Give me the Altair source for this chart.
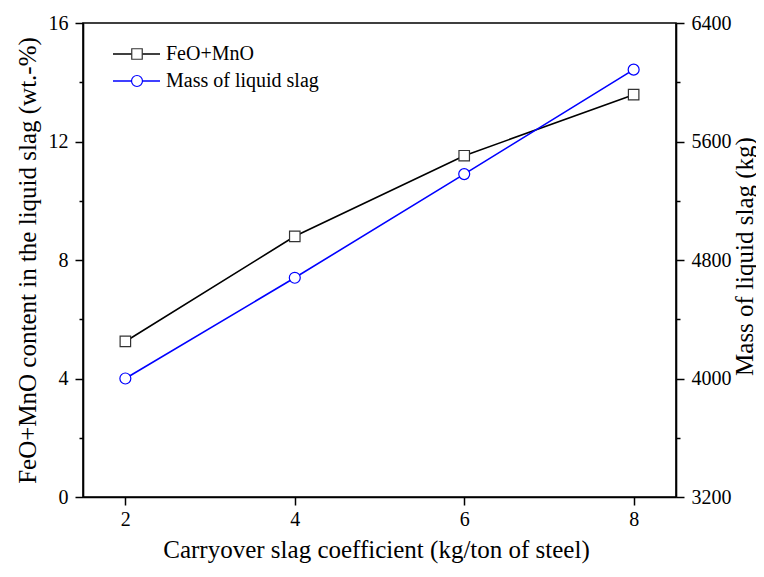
import altair as alt
import pandas as pd

coef = [2, 4, 6, 8]
feo_mno = [5.25, 8.8, 11.52, 13.58]
slag_mass = [4000, 4680, 5380, 6085]
series_names = ["FeO+MnO", "Mass of liquid slag"]

df = pd.DataFrame({"coef": coef, "feo": feo_mno, "mass": slag_mass})
FONT = "Liberation Serif"
W, H = 593, 474

x_enc = alt.X(
    "coef:Q",
    scale=alt.Scale(domain=[1.5, 8.5], nice=False, zero=False),
    axis=alt.Axis(
        values=[2, 4, 6, 8], title="Carryover slag coefficient (kg/ton of steel)",
        grid=False, tickSize=8, labelPadding=4,
        titleX=293, titleY=52, titleAlign="center", titleBaseline="middle",
    ),
)

left_axis = alt.Axis(
    values=[0, 2, 4, 6, 8, 10, 12, 14, 16],
    labelExpr="datum.value % 4 == 0 ? datum.label : ''",
    tickSize={"condition": {"test": "datum.value % 4 == 0", "value": 8}, "value": 4},
    title="FeO+MnO content in the liquid slag (wt.-%)",
    grid=False, labelPadding=7,
    titleX=-56, titleY=237, titleAngle=270, titleAlign="center", titleBaseline="middle",
)
right_axis = alt.Axis(
    values=[3200, 3600, 4000, 4400, 4800, 5200, 5600, 6000, 6400],
    labelExpr="datum.value % 800 == 0 ? datum.label : ''",
    tickSize={"condition": {"test": "datum.value % 800 == 0", "value": 8}, "value": 4},
    format="d", orient="right",
    title="Mass of liquid slag (kg)",
    grid=False, labelPadding=7,
    titleX=68, titleY=233, titleAngle=270, titleAlign="center", titleBaseline="middle",
)

base = alt.Chart(df).encode(x=x_enc)
y_left = alt.Y("feo:Q", scale=alt.Scale(domain=[0, 16], nice=False), axis=left_axis)
y_right = alt.Y("mass:Q", scale=alt.Scale(domain=[3200, 6400], nice=False), axis=right_axis)

feo_line = base.mark_line(color="black", strokeWidth=1.6).encode(y=y_left)
feo_pts = base.mark_point(shape="square", size=110, filled=True, fill="white",
                          stroke="#333333", strokeWidth=1.2, opacity=1).encode(y="feo:Q")

mass_line = base.mark_line(color="#0000ff", strokeWidth=1.6).encode(y=y_right)
mass_pts = base.mark_point(shape="circle", size=120, filled=True, fill="white",
                           stroke="#0000ff", strokeWidth=1.2, opacity=1).encode(y="mass:Q")

# legend (decoration)
leg_df = pd.DataFrame({"name": series_names})
legend_layers = []
for i, (name, col, shp, stk) in enumerate(zip(series_names, ["black", "#0000ff"],
                                               ["square", "circle"], ["#333333", "#0000ff"])):
    yy = 31 + 27 * i
    src = alt.Chart(leg_df).transform_filter(alt.datum.name == name)
    legend_layers.append(src.mark_rule(color=col, strokeWidth=1.6).encode(
        x=alt.value(30), x2=alt.value(77), y=alt.value(yy)))
    legend_layers.append(src.mark_point(shape=shp, size=110 if shp == "square" else 120,
                                        filled=True, fill="white", stroke=stk,
                                        strokeWidth=1.2, opacity=1).encode(
        x=alt.value(54), y=alt.value(yy)))
    legend_layers.append(src.mark_text(align="left", baseline="middle", font=FONT,
                                       fontSize=20, color="black").encode(
        x=alt.value(83), y=alt.value(yy), text="name:N"))

left_layer = alt.layer(feo_line, feo_pts, *legend_layers)
right_layer = alt.layer(mass_line, mass_pts)

chart = alt.layer(left_layer, right_layer).resolve_scale(y="independent").properties(
    width=W, height=H,
    background="white",
    autosize=alt.AutoSizeParams(type="none"),
    padding={"left": 75, "top": 15, "right": 80, "bottom": 72},
).configure_view(stroke="black", strokeWidth=1.6).configure_axis(
    domainColor="black", domainWidth=1.6, tickColor="black", tickWidth=1.5,
    labelFont=FONT, labelFontSize=20, labelColor="black",
    titleFont=FONT, titleFontSize=25, titleFontWeight="normal", titleColor="black",
)

chart.save("out.html", embed_options={"renderer": "svg", "actions": False})
